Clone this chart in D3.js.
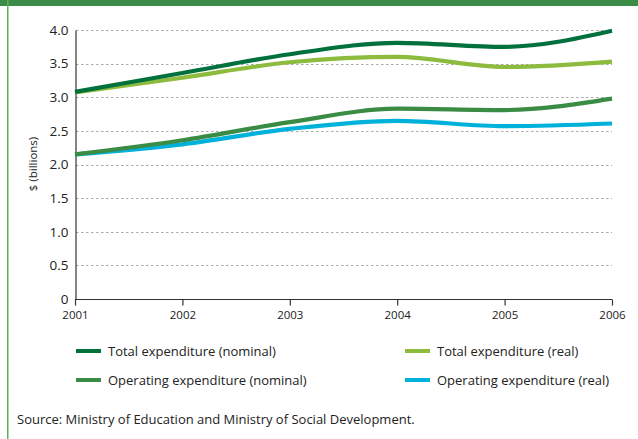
<!DOCTYPE html>
<html>
<head>
<meta charset="utf-8">
<script src="https://cdn.jsdelivr.net/npm/d3@7"></script>
<style>
  html, body { margin: 0; padding: 0; background: #fff; }
  svg { display: block; font-family: "Open Sans", "Noto Sans", sans-serif; }
</style>
</head>
<body>
<svg id="chart" width="638" height="439"></svg>
<script>
// Years on the x axis
const years = [2001, 2002, 2003, 2004, 2005, 2006];
// Expenditure in $ billions
const totalNominal = [3.08, 3.36, 3.64, 3.81, 3.75, 3.99];
const totalReal = [3.07, 3.29, 3.52, 3.60, 3.45, 3.53];
const operatingNominal = [2.15, 2.36, 2.63, 2.83, 2.81, 2.98];
const operatingReal = [2.15, 2.30, 2.53, 2.65, 2.57, 2.61];
const yTicks = [0, 0.5, 1.0, 1.5, 2.0, 2.5, 3.0, 3.5, 4.0];
const seriesNames = [
  "Total expenditure (nominal)",
  "Total expenditure (real)",
  "Operating expenditure (nominal)",
  "Operating expenditure (real)"
];
const seriesColors = ["#00703c", "#8dbb3e", "#3a8c44", "#00b1d9"];

const series = [totalNominal, totalReal, operatingNominal, operatingReal].map((v, i) => ({
  name: seriesNames[i], color: seriesColors[i], values: v
}));

const svg = d3.select("#chart");

// Frame: green band across the top and a thin rule down the left
svg.append("rect").attr("x", 0).attr("y", 0).attr("width", 638).attr("height", 6).attr("fill", "#3b8c47");
svg.append("rect").attr("x", 7).attr("y", 0).attr("width", 1.5).attr("height", 439).attr("fill", "#5fae5f");

const x = d3.scaleLinear().domain([2001, 2006]).range([75, 612]);
const y = d3.scaleLinear().domain([0, 4]).range([299, 30]);

// Dotted gridlines
svg.append("g").selectAll("line").data(yTicks.filter(d => d > 0)).join("line")
  .attr("x1", 76).attr("x2", 612)
  .attr("y1", d => Math.round(y(d)) + 0.5).attr("y2", d => Math.round(y(d)) + 0.5)
  .attr("stroke", "#aaa").attr("stroke-width", 1.2).attr("stroke-dasharray", "2.5,2.5");

// Y axis
const yAxis = svg.append("g").attr("transform", "translate(75.5,0)")
  .call(d3.axisLeft(y).tickValues(yTicks).tickSize(0).tickPadding(7)
    .tickFormat(d => d === 0 ? "0" : d3.format(".1f")(d)));
yAxis.select(".domain").attr("stroke", "#333").attr("stroke-width", 1.2);
yAxis.selectAll("text").attr("font-size", 13.5).attr("fill", "#222")
  .attr("font-family", "'Open Sans', sans-serif");

// X axis
const xAxis = svg.append("g").attr("transform", "translate(0,299.5)")
  .call(d3.axisBottom(x).tickValues(years).tickSize(-6).tickPadding(11).tickFormat(d3.format("d")));
xAxis.select(".domain").attr("stroke", "#333").attr("stroke-width", 1.2).attr("d", "M75,0H612");
xAxis.selectAll(".tick line").attr("stroke", "#333").attr("stroke-width", 1.2).attr("y1", 0).attr("y2", 6);
xAxis.selectAll("text").attr("font-size", 11.5).attr("fill", "#222")
  .attr("font-family", "'Open Sans', sans-serif");

// Axis title
svg.append("text").attr("transform", "translate(37,164) rotate(-90)")
  .attr("text-anchor", "middle").attr("font-size", 11.5).attr("fill", "#222")
  .text("$ (billions)");

// Series lines
const line = d3.line().x((d, i) => x(years[i])).y(d => y(d)).curve(d3.curveMonotoneX);
svg.append("g").selectAll("path").data(series.slice().reverse()).join("path")
  .attr("d", d => line(d.values))
  .attr("fill", "none").attr("stroke", d => d.color).attr("stroke-width", 4.2);

// Legend
const legendPos = [[76, 351], [405, 351], [76, 380], [405, 380]];
const lg = svg.append("g").selectAll("g").data(series).join("g")
  .attr("transform", (d, i) => `translate(${legendPos[i][0]},${legendPos[i][1]})`);
lg.append("line").attr("x1", 0).attr("x2", 25).attr("y1", 0).attr("y2", 0)
  .attr("stroke", d => d.color).attr("stroke-width", 4);
lg.append("text").attr("x", 32).attr("y", 4.5).attr("font-size", 13).attr("fill", "#222").text(d => d.name);

// Source note
svg.append("text").attr("x", 17).attr("y", 424).attr("font-size", 13).attr("fill", "#222")
  .text("Source: Ministry of Education and Ministry of Social Development.");
</script>
</body>
</html>
